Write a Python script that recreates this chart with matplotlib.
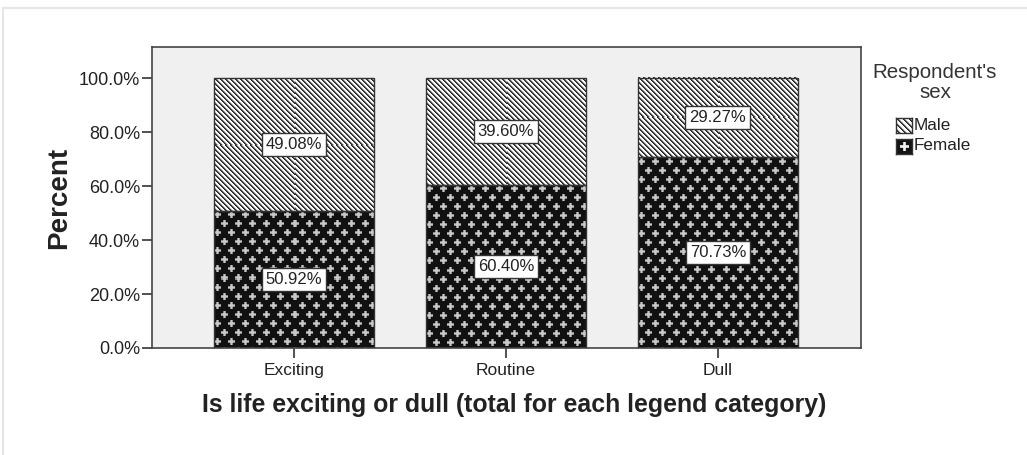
import numpy as np
import matplotlib
matplotlib.use("Agg")
import matplotlib.pyplot as plt
from matplotlib.patches import Rectangle
from matplotlib.ticker import FuncFormatter

plt.rcParams['font.family'] = ['Liberation Sans', 'DejaVu Sans']

categories = ["Exciting", "Routine", "Dull"]
female_pct = [50.92, 60.40, 70.73]
male_pct = [49.08, 39.60, 29.27]
y_ticks = [0, 20, 40, 60, 80, 100]

W, H = 1027, 455
INK = "#333333"


def px(x, y):
    # pixel position (from top-left) -> figure fraction
    return x / W, 1 - y / H


def stripe_tile(period=5):
    t = np.ones((period, period))
    shades = {0: 0.15, 1: 0.3, 2: 0.75}
    for r in range(period):
        for c in range(period):
            t[r, c] = shades.get((c - r) % period, 1.0)
    return t


def plus(t, cr, cc, arm=3, half=1, edge=0.55, core=0.78):
    h, w = t.shape
    for dr in range(-arm, arm + 1):
        for dc in range(-arm, arm + 1):
            if (abs(dr) <= half) or (abs(dc) <= half):
                if abs(dr) <= half and abs(dc) <= half or dr == 0 or dc == 0:
                    v = core
                else:
                    v = edge
                t[(cr + dr) % h, (cc + dc) % w] = v


def cross_tile():
    t = np.full((18, 14), 0.07)
    plus(t, 4, 3)
    plus(t, 13, 10)
    return t


def fill_texture(ax, bar, tile):
    x0, y0 = bar.get_x(), bar.get_y()
    x1, y1 = x0 + bar.get_width(), y0 + bar.get_height()
    (px0, py0), (px1, py1) = ax.transData.transform([(x0, y0), (x1, y1)])
    nx, ny = max(int(round(px1 - px0)), 1), max(int(round(py1 - py0)), 1)
    reps = (ny // tile.shape[0] + 1, nx // tile.shape[1] + 1)
    img = np.tile(tile, reps)[:ny, :nx]
    ax.imshow(img, cmap="gray", vmin=0, vmax=1, extent=(x0, x1, y0, y1),
              aspect="auto", interpolation="nearest", zorder=1)


fig = plt.figure(figsize=(W / 100, H / 100), dpi=100)
fig.patch.set_facecolor("white")
fig.patches.append(Rectangle((3 / W, -0.01), 1, 1 - 8 / H + 0.01, transform=fig.transFigure,
                             fill=False, edgecolor="#e6e6e6", lw=1.5))

l, t = px(152, 47)
r, b = px(861, 348)
ax = fig.add_axes([l, b, r - l, t - b])
ax.set_facecolor("#f0f0f0")

x = np.arange(len(categories))
xlim = (-0.67, 2.675)
ylim = (0, 111.5)
ax.set_xlim(*xlim)
ax.set_ylim(*ylim)

width = 0.755
fem_bars = ax.bar(x, female_pct, width, facecolor="none", edgecolor=INK, lw=1, zorder=3)
male_bars = ax.bar(x, male_pct, width, bottom=female_pct, facecolor="none",
                   edgecolor=INK, lw=1, zorder=3)

for bar in fem_bars:
    fill_texture(ax, bar, cross_tile())
for bar in male_bars:
    fill_texture(ax, bar, stripe_tile())
ax.set_xlim(*xlim)
ax.set_ylim(*ylim)

box = dict(boxstyle="square,pad=0.25", fc="white", ec=INK, lw=1)
for i in range(len(categories)):
    ax.text(x[i], female_pct[i] / 2, f"{female_pct[i]:.2f}%", ha="center", va="center",
            fontsize=12, color="#222222", bbox=box, zorder=5)
    ax.text(x[i], female_pct[i] + male_pct[i] / 2, f"{male_pct[i]:.2f}%", ha="center",
            va="center", fontsize=12, color="#222222", bbox=box, zorder=5)

ax.set_xticks(x)
ax.set_xticklabels(categories)
ax.set_yticks(y_ticks)
ax.yaxis.set_major_formatter(FuncFormatter(lambda v, _: f"{v:.1f}%"))
ax.tick_params(axis="y", length=7, width=1.2, color=INK, pad=1.5, labelsize=13, labelcolor="#222222")
ax.tick_params(axis="x", length=7, width=1.2, color=INK, pad=3.5, labelsize=12.5, labelcolor="#222222")
for s in ax.spines.values():
    s.set_color("#444444")
    s.set_linewidth(1.2)

ax.set_ylabel("Percent", fontsize=20, fontweight="bold", color="#222222", labelpad=5)
ax.set_xlabel("Is life exciting or dull (total for each legend category)",
              fontsize=17.9, fontweight="bold", color="#222222")
ax.xaxis.set_label_coords((514 - 152) / 709, -0.148)

# legend drawn by hand: title, swatches, labels
fig.text(*px(935, 72), "Respondent's", ha="center", va="center", fontsize=14.8, color="#333333")
fig.text(*px(935, 93), "sex", ha="center", va="center", fontsize=14.8, color="#333333")

male_swatch = np.tile(stripe_tile(6), (3, 3))[:15, :16]
female_swatch = np.full((15, 16), 0.08)
plus(female_swatch, 7, 8, arm=4, half=1, edge=0.8, core=0.95)

for (yc, label, img) in [(125, "Male", male_swatch), (146, "Female", female_swatch)]:
    sx, sy = px(896, yc + 8)
    sw = fig.add_axes([sx, sy, 16 / W, 15 / H])
    sw.imshow(img, cmap="gray", vmin=0, vmax=1, interpolation="nearest", aspect="auto")
    sw.set_xticks([])
    sw.set_yticks([])
    for s in sw.spines.values():
        s.set_color(INK)
        s.set_linewidth(1)
    fig.text(*px(914, yc), label, ha="left", va="center", fontsize=12.3, color="#222222")

fig.savefig("out.png", dpi=100)
